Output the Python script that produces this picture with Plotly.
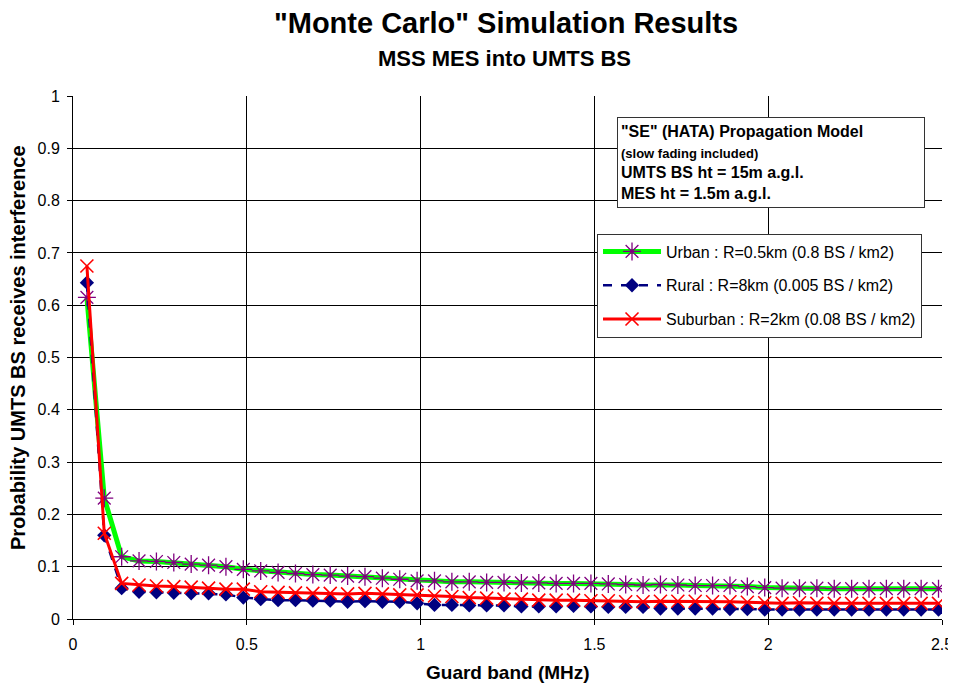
import plotly.graph_objects as go

guard_band = [0.04, 0.09, 0.14, 0.19, 0.24, 0.29, 0.34, 0.39, 0.44, 0.49,
              0.54, 0.59, 0.64, 0.69, 0.74, 0.79, 0.84, 0.89, 0.94, 0.99,
              1.04, 1.09, 1.14, 1.19, 1.24, 1.29, 1.34, 1.39, 1.44, 1.49,
              1.54, 1.59, 1.64, 1.69, 1.74, 1.79, 1.84, 1.89, 1.94, 1.99,
              2.04, 2.09, 2.14, 2.19, 2.24, 2.29, 2.34, 2.39, 2.44, 2.49]

urban = [0.615, 0.231, 0.119, 0.111, 0.110, 0.108, 0.105, 0.103, 0.100, 0.095,
         0.092, 0.089, 0.087, 0.085, 0.084, 0.082, 0.081, 0.078, 0.076, 0.073,
         0.073, 0.071, 0.071, 0.070, 0.070, 0.069, 0.069, 0.068, 0.068, 0.068,
         0.067, 0.066, 0.065, 0.066, 0.065, 0.064, 0.064, 0.064, 0.062, 0.060,
         0.059, 0.059, 0.059, 0.058, 0.058, 0.058, 0.058, 0.058, 0.058, 0.058]

rural = [0.643, 0.160, 0.059, 0.052, 0.051, 0.050, 0.049, 0.049, 0.047, 0.041,
         0.038, 0.036, 0.036, 0.035, 0.035, 0.033, 0.034, 0.033, 0.033, 0.030,
         0.027, 0.027, 0.026, 0.026, 0.026, 0.024, 0.024, 0.024, 0.025, 0.024,
         0.023, 0.023, 0.023, 0.020, 0.020, 0.020, 0.020, 0.019, 0.019, 0.018,
         0.018, 0.018, 0.018, 0.018, 0.018, 0.018, 0.018, 0.018, 0.018, 0.018]

suburban = [0.675, 0.164, 0.068, 0.065, 0.063, 0.062, 0.061, 0.059, 0.057, 0.057,
            0.052, 0.051, 0.050, 0.049, 0.049, 0.048, 0.049, 0.048, 0.046, 0.046,
            0.044, 0.043, 0.041, 0.040, 0.038, 0.038, 0.036, 0.036, 0.036, 0.035,
            0.035, 0.033, 0.033, 0.034, 0.034, 0.034, 0.033, 0.033, 0.032, 0.031,
            0.030, 0.031, 0.030, 0.030, 0.030, 0.030, 0.030, 0.030, 0.030, 0.030]

series_names = ["Urban : R=0.5km (0.8 BS / km2)",
                "Rural : R=8km (0.005 BS / km2)",
                "Suburban : R=2km (0.08 BS / km2)"]

x_ticks = [0, 0.5, 1, 1.5, 2, 2.5]
x_tick_labels = ["0", "0.5", "1", "1.5", "2", "2.5"]
y_ticks = [0, 0.1, 0.2, 0.3, 0.4, 0.5, 0.6, 0.7, 0.8, 0.9, 1]
y_tick_labels = ["0", "0.1", "0.2", "0.3", "0.4", "0.5", "0.6", "0.7", "0.8", "0.9", "1"]

title_text = '"Monte Carlo" Simulation Results'
subtitle_text = "MSS MES into UMTS BS"
x_title = "Guard band (MHz)"
y_title = "Probability UMTS BS receives interference"
note_lines = ['"SE" (HATA) Propagation Model', "(slow fading included)",
              "UMTS BS ht = 15m a.g.l.", "MES ht = 1.5m a.g.l."]

FONT = "Liberation Sans, Arial, sans-serif"

fig = go.Figure()

fig.add_trace(go.Scatter(
    x=guard_band, y=urban, name=series_names[0], mode="lines+markers",
    line=dict(color="#00FF00", width=5),
    marker=dict(symbol="asterisk-open", size=15, color="#800080",
                line=dict(color="#800080", width=1.3)),
    legendgroup="a"))

fig.add_trace(go.Scatter(
    x=guard_band, y=rural, name=series_names[1], mode="lines+markers",
    line=dict(color="#000080", width=2.5, dash="dash"),
    marker=dict(symbol="diamond", size=11, color="#000080"),
    legendgroup="b"))

fig.add_trace(go.Scatter(
    x=guard_band, y=suburban, name=series_names[2], mode="lines+markers",
    line=dict(color="#FF0000", width=3),
    marker=dict(symbol="x-thin-open", size=13, color="#FF0000",
                line=dict(color="#FF0000", width=1.6)),
    legendgroup="c"))

fig.update_layout(
    width=948, height=676,
    margin=dict(l=65, r=14, t=88, b=65, autoexpand=False),
    paper_bgcolor="white", plot_bgcolor="white",
    font=dict(family=FONT, color="black", size=16),
    xaxis=dict(
        range=[0, 2.5], tickvals=x_ticks, ticktext=x_tick_labels,
        showgrid=True, gridcolor="black", gridwidth=1,
        showline=True, linecolor="black", linewidth=1,
        ticks="outside", ticklen=5, tickcolor="black",
        zeroline=False, ticklabelstandoff=6,
        tickfont=dict(size=16)),
    yaxis=dict(
        range=[0, 1], tickvals=y_ticks, ticktext=y_tick_labels,
        showgrid=True, gridcolor="black", gridwidth=1,
        showline=True, linecolor="black", linewidth=1,
        ticks="outside", ticklen=5, tickcolor="black",
        zeroline=False, ticklabelstandoff=4,
        tickfont=dict(size=16)),
    legend=dict(
        x=0.603, y=0.737, xanchor="left", yanchor="top",
        bgcolor="white", bordercolor="#333333", borderwidth=1,
        font=dict(family=FONT, size=16, color="black"),
        traceorder="grouped", tracegroupgap=10,
        itemwidth=58, entrywidth=273, entrywidthmode="pixels"),
    showlegend=True,
)

# titles
fig.add_annotation(xref="paper", yref="paper", x=0.4988, y=1.1396,
                   xanchor="center", yanchor="middle", showarrow=False,
                   text="<b>" + title_text + "</b>",
                   font=dict(family=FONT, size=29, color="black"))
fig.add_annotation(xref="paper", yref="paper", x=0.497, y=1.0717,
                   xanchor="center", yanchor="middle", showarrow=False,
                   text="<b>" + subtitle_text + "</b>",
                   font=dict(family=FONT, size=22, color="black"))
fig.add_annotation(xref="paper", yref="paper", x=0.501, y=-0.103,
                   xanchor="center", yanchor="middle", showarrow=False,
                   text="<b>" + x_title + "</b>",
                   font=dict(family=FONT, size=19, color="black"))
fig.add_annotation(xref="paper", yref="paper", x=-0.0633, y=0.520,
                   xanchor="center", yanchor="middle", showarrow=False,
                   textangle=-90,
                   text="<b>" + y_title + "</b>",
                   font=dict(family=FONT, size=20, color="black"))

note_text = ("<b>" + note_lines[0] + "</b><br>"
             + '<span style="font-size:13px"><b>' + note_lines[1] + "</b></span><br>"
             + "<b>" + note_lines[2] + "</b><br>"
             + "<b>" + note_lines[3] + "</b>")
fig.add_annotation(
    xref="paper", yref="paper", x=0.626, y=0.960, xanchor="left", yanchor="top",
    align="left", valign="middle", showarrow=False,
    text=note_text,
    font=dict(family=FONT, size=16, color="black"),
    bgcolor="white", bordercolor="#333333", borderwidth=1, borderpad=3,
    width=300, height=83)

fig.write_html("out.html")
